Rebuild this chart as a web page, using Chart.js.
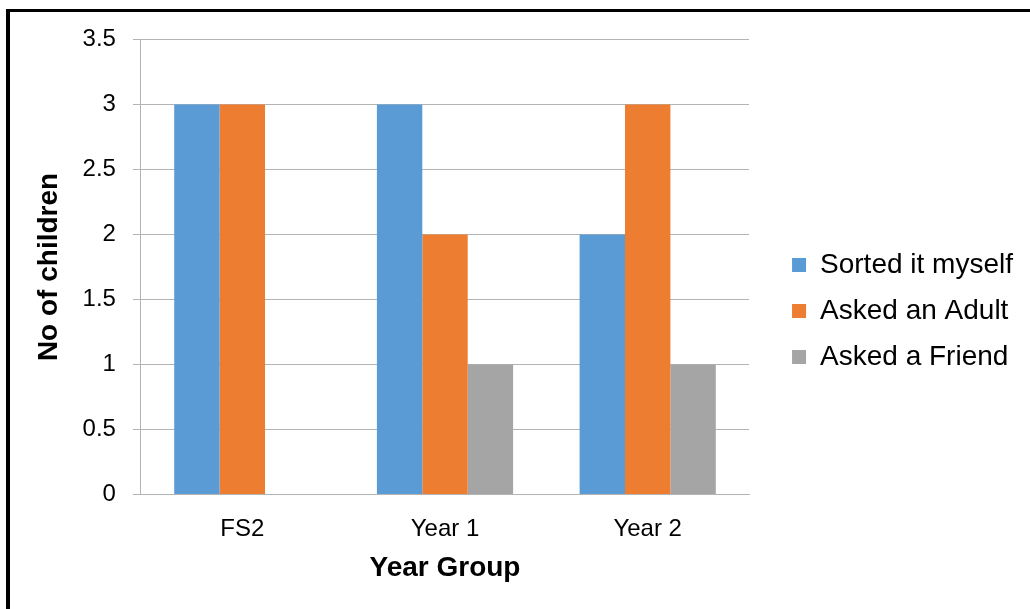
<!DOCTYPE html>
<html>
<head>
<meta charset="utf-8">
<script src="https://cdn.jsdelivr.net/npm/chart.js@4"></script>
<style>
  html, body { margin: 0; padding: 0; background: #fff; }
  #frame {
    position: absolute; left: 6px; top: 9px;
    width: 1024px; height: 600px;
    border-top: 3px solid #000; border-left: 4px solid #000;
  }
  #wrap { position: absolute; left: 0; top: -4px; width: 1020px; height: 601px; }
</style>
</head>
<body>
<div id="frame"><div id="wrap"><canvas id="chart"></canvas></div></div>
<script>
// data
const groups = ["FS2", "Year 1", "Year 2"];
const sortedItMyself = [3, 3, 2];
const askedAdult = [3, 2, 3];
const askedFriend = [0, 1, 1];
const yTicks = [0, 0.5, 1, 1.5, 2, 2.5, 3, 3.5];

const font = "'Liberation Sans', Arial, sans-serif";
const gridGrey = "#b4b4b4";

const ctx = document.getElementById("chart").getContext("2d");
new Chart(ctx, {
  type: "bar",
  data: {
    labels: groups,
    datasets: [
      { label: "Sorted it myself", data: sortedItMyself, backgroundColor: "#5b9bd5" },
      { label: "Asked an Adult", data: askedAdult, backgroundColor: "#ed7d31" },
      { label: "Asked a Friend", data: askedFriend, backgroundColor: "#a5a5a5" }
    ]
  },
  options: {
    responsive: true,
    maintainAspectRatio: false,
    animation: false,
    datasets: { bar: { barPercentage: 1, categoryPercentage: 0.672 } },
    layout: { padding: { top: 8, left: 22, right: 7, bottom: 3 } },
    plugins: {
      tooltip: { enabled: false },
      legend: {
        position: "right",
        maxWidth: 260,
        labels: {
          boxWidth: 14, boxHeight: 14, padding: 18,
          color: "#000",
          font: { family: font, size: 28 }
        }
      }
    },
    scales: {
      x: {
        grid: { display: false },
        border: { display: true, color: gridGrey, width: 1 },
        ticks: { color: "#000", font: { family: font, size: 24 }, padding: 12 },
        title: {
          display: true, text: "Year Group", color: "#000",
          font: { family: font, size: 28, weight: "bold" },
          padding: { top: -4, bottom: 21 }
        }
      },
      y: {
        min: 0, max: 3.5,
        afterBuildTicks: axis => { axis.ticks = yTicks.map(v => ({ value: v })); },
        grid: { color: gridGrey, lineWidth: 1, tickLength: 8 },
        border: { display: true, color: gridGrey, width: 1 },
        ticks: { color: "#000", font: { family: font, size: 24 }, padding: 17,
                 callback: v => String(v) },
        title: {
          display: true, text: "No of children", color: "#000",
          font: { family: font, size: 28, weight: "bold" },
          padding: { top: 0, bottom: 0 }
        }
      },
      // empty axis, only keeps a gap between the plot and the legend
      gap: {
        type: "linear", position: "right", display: true,
        grid: { display: false }, border: { display: false },
        ticks: { display: false },
        afterFit: s => { s.width = 25; }
      }
    }
  }
});
</script>
</body>
</html>
